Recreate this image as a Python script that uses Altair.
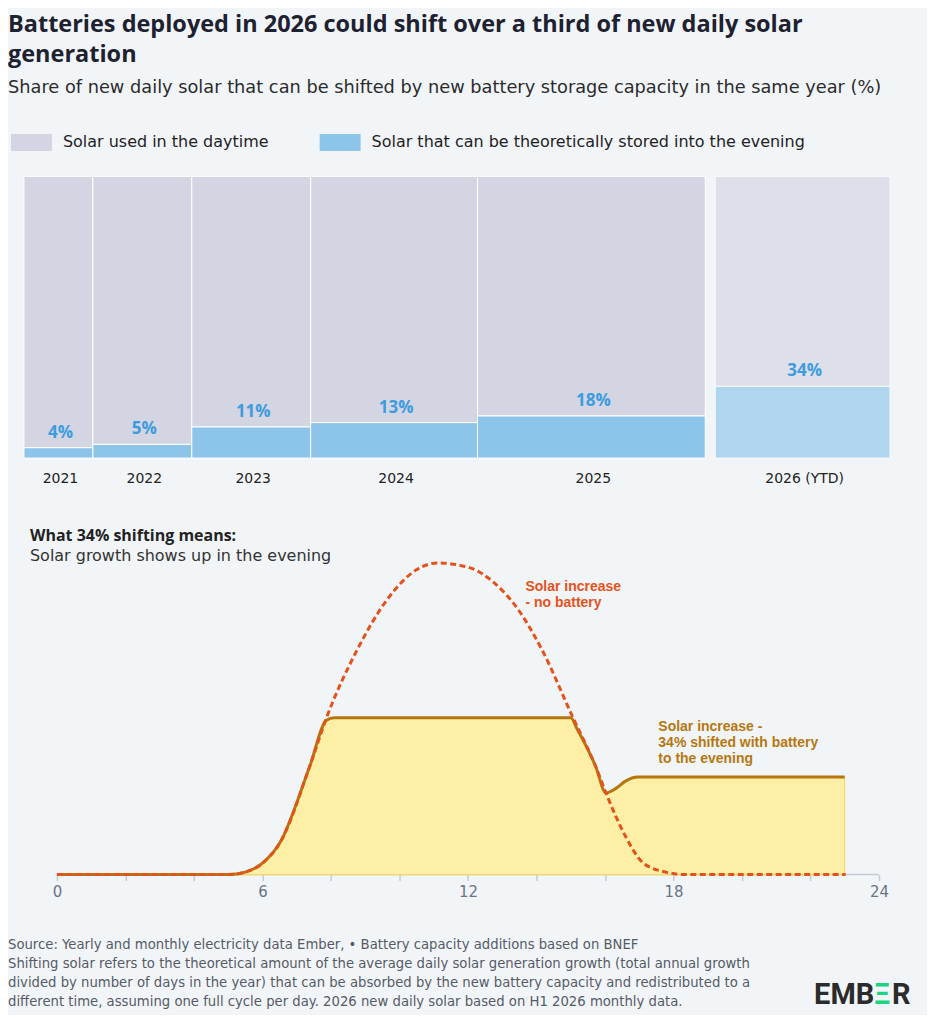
import altair as alt
import pandas as pd

# ---------------- data ----------------
years = ["2021", "2022", "2023", "2024", "2025", "2026 (YTD)"]
new_daily_solar = [69, 99, 119, 167, 228, 175]          # bar widths (relative units)
shifted_bar = [3.7, 4.9, 11.1, 12.6, 15.0, 25.5]        # drawn height of the blue part (%)
shifted_label = ["4%", "5%", "11%", "13%", "18%", "34%"]
is_ytd = ["no", "no", "no", "no", "no", "yes"]

cat_day = "Solar used in the daytime"
cat_eve = "Solar that can be theoretically stored into the evening"

hours_no_battery = [0, 5.0, 5.5, 6.07, 6.51, 7.38, 7.87, 8.77, 9.64, 10.51, 11.12, 12.07,
                    12.77, 13.47, 14.16, 15.07, 15.73, 16.07, 16.6, 17.12, 17.82, 18.33, 23.03]
solar_no_battery = [0, 0, 0.8, 4.3, 10.2, 34.7, 50.3, 72.2, 88.2, 97.9, 100, 98.4,
                    93.6, 85.0, 72.2, 50.3, 34.7, 25.1, 12.3, 3.7, 0.7, 0, 0]

hours_battery = [0, 5.0, 5.5, 6.07, 6.51, 7.38, 7.87, 8.1, 15.0, 15.2, 15.73, 16.03,
                 16.3, 16.6, 16.95, 23.0]
solar_battery = [0, 0, 0.8, 4.3, 10.2, 34.7, 49.5, 50.3, 50.3, 46.5, 34.7, 26.2,
                 27.5, 30.0, 31.3, 31.3]

hour_ticks = list(range(0, 25, 2))

note_hours = [13.68, 17.56]
note_levels = [91.1, 46.2]          # baseline of each note's first line
note_texts = [["Solar increase", "- no battery"],
              ["Solar increase -", "34% shifted with battery", "to the evening"]]
note_colors = ["#e4521b", "#b7770f"]

footer_lines = [
    "Source: Yearly and monthly electricity data Ember, \u2022 Battery capacity additions based on BNEF",
    "Shifting solar refers to the theoretical amount of the average daily solar generation growth (total annual growth",
    "divided by number of days in the year) that can be absorbed by the new battery capacity and redistributed to a",
    "different time, assuming one full cycle per day. 2026 new daily solar based on H1 2026 monthly data.",
]

BG = "#f2f5f8"
FONT_B = "Open Sans"
FONT_R = "DejaVu Sans"

# ---------------- top: variable-width bars ----------------
rows, labels = [], []
start = 0.0
for i, yr in enumerate(years):
    if is_ytd[i] == "yes":
        start += 10  # visual gap before the YTD bar
    end = start + new_daily_solar[i]
    rows.append(dict(year=yr, cat=cat_eve, x0=start, x1=end, y0=0, y1=shifted_bar[i], ytd=is_ytd[i]))
    rows.append(dict(year=yr, cat=cat_day, x0=start, x1=end, y0=shifted_bar[i], y1=100, ytd=is_ytd[i]))
    labels.append(dict(year=yr, xm=(start + end) / 2, top=shifted_bar[i], label=shifted_label[i]))
    start = end
total = start
bars_df = pd.DataFrame(rows)
lab_df = pd.DataFrame(labels)

xs = alt.Scale(domain=[0, total], nice=False, zero=False)
ys = alt.Scale(domain=[0, 100], nice=False)

bars = alt.Chart(bars_df).mark_rect(stroke="white", strokeWidth=1).encode(
    x=alt.X("x0:Q", scale=xs, axis=None),
    x2="x1:Q",
    y=alt.Y("y0:Q", scale=ys, axis=None),
    y2="y1:Q",
    color=alt.Color(
        "cat:N",
        scale=alt.Scale(domain=[cat_day, cat_eve], range=["#d3d6e2", "#8dc5ea"]),
        legend=alt.Legend(
            title=None, orient="none", direction="horizontal",
            legendX=-13, legendY=-55,
            symbolType="M-1,-0.415H1V0.415H-1Z", symbolSize=1681,
            symbolStrokeWidth=0, symbolOpacity=1,
            labelFontSize=16, labelColor="#222222", labelFont=FONT_R, labelLimit=600,
            labelOffset=11, columnPadding=50,
        ),
    ),
    opacity=alt.Opacity("ytd:N", scale=alt.Scale(domain=["no", "yes"], range=[1, 0.65]), legend=None),
)

pct = alt.Chart(lab_df).mark_text(
    dy=-15, dx=2, fontSize=17, fontWeight="bold", color="#3d9be0", font=FONT_B
).encode(
    x=alt.X("xm:Q", scale=xs),
    y=alt.Y("top:Q", scale=ys),
    text="label:N",
)

yr_text = alt.Chart(lab_df).mark_text(
    dy=21, dx=2, fontSize=14, color="#222222", font=FONT_R
).encode(
    x=alt.X("xm:Q", scale=xs),
    y=alt.datum(0, scale=ys),
    text="year:N",
)

top = alt.layer(bars, pct, yr_text).properties(width=total, height=282)

# ---------------- bottom: daily profile ----------------
PX_PER_H = 34.29
hmin, hmax = -0.962, 24.5
W2 = round((hmax - hmin) * PX_PER_H)
H2 = 312

hx = alt.Scale(domain=[hmin, hmax], nice=False, zero=False)
hy = alt.Scale(domain=[0, 100], nice=False, zero=False)

nb_df = pd.DataFrame({"h": hours_no_battery, "v": solar_no_battery})
b_df = pd.DataFrame({"h": hours_battery, "v": solar_battery})
notes_df = pd.DataFrame({"h": note_hours, "v": note_levels, "t": note_texts, "c": note_colors})

axis_line = alt.Chart(pd.DataFrame({"h0": [hour_ticks[0]], "h1": [hour_ticks[-1]], "v": [0]})).mark_rule(
    color="#c5cad5", strokeWidth=1.5
).encode(
    x=alt.X("h0:Q", scale=hx, axis=alt.Axis(
        values=hour_ticks, labelExpr="datum.value % 6 === 0 ? datum.label : ''",
        domain=False, grid=False, ticks=True, tickSize=6, tickColor="#c5cad5", tickWidth=1.5,
        labelFontSize=15, labelColor="#6b7385", labelPadding=4, title=None, labelFont=FONT_R,
        labelFlush=False, labelOverlap=False,
    )),
    x2="h1:Q",
    y=alt.Y("v:Q", scale=hy, axis=None),
)

area = alt.Chart(b_df).mark_area(
    color="#fdf0a6", interpolate="monotone", stroke="#f6d668", strokeWidth=1.2
).encode(x=alt.X("h:Q", scale=hx), y=alt.Y("v:Q", scale=hy))

bline = alt.Chart(b_df).mark_line(
    color="#b5760f", strokeWidth=3, interpolate="monotone"
).encode(x=alt.X("h:Q", scale=hx), y=alt.Y("v:Q", scale=hy))

nbline = alt.Chart(nb_df).mark_line(
    color="#e4521b", strokeWidth=3, strokeDash=[6, 3.5], interpolate="monotone"
).encode(x=alt.X("h:Q", scale=hx), y=alt.Y("v:Q", scale=hy))

notes = alt.Chart(notes_df).mark_text(
    align="left", baseline="alphabetic", fontSize=14, fontWeight="bold", font="Liberation Sans",
    lineHeight=16.3,
).encode(
    x=alt.X("h:Q", scale=hx), y=alt.Y("v:Q", scale=hy), text="t",
    color=alt.Color("c:N", scale=None),
)

one = pd.DataFrame({"a": [0]})
footer = alt.Chart(one).mark_text(
    align="left", baseline="top", fontSize=13.25, color="#555b66", font=FONT_R,
    lineHeight=19.1, text=footer_lines,
).encode(x=alt.value(-16), y=alt.value(376))

# EMBER logo as three adjacent text pieces (no overlap)
logo_kw = dict(align="left", baseline="middle", fontSize=29, fontWeight="bold", font="Roboto")
logo1 = alt.Chart(one).mark_text(color="#2b2b2b", text="EMB", **logo_kw).encode(
    x=alt.value(791), y=alt.value(433))
logo2 = alt.Chart(one).mark_text(color="#20d47f", text="\u039e", **logo_kw).encode(
    x=alt.value(851), y=alt.value(433))
logo3 = alt.Chart(one).mark_text(color="#2b2b2b", text="R", **logo_kw).encode(
    x=alt.value(869), y=alt.value(433))

bottom = alt.layer(axis_line, area, bline, nbline, notes, footer, logo1, logo2, logo3).properties(
    width=W2, height=H2,
    title=alt.Title(
        "What 34% shifting means:", subtitle="Solar growth shows up in the evening",
        anchor="start", fontSize=16, fontWeight="bold", color="#222222", font=FONT_B,
        subtitleFontSize=16, subtitleColor="#333333", subtitleFont=FONT_R,
        subtitlePadding=4, offset=-7, dx=22,
    ),
)

chart = alt.vconcat(top, bottom, spacing=42).properties(
    background=BG,
    padding={"left": 0, "top": 4, "right": 16, "bottom": 4},
    title=alt.Title(
        ["Batteries deployed in 2026 could shift over a third of new daily solar", "generation"],
        subtitle="Share of new daily solar that can be shifted by new battery storage capacity in the same year (%)",
        anchor="start", fontSize=23.5, fontWeight="bold", color="#1d2130", font=FONT_B, lineHeight=30,
        subtitleFontSize=17.8, subtitleColor="#2b2b2b", subtitleFont=FONT_R, subtitlePadding=12,
        offset=25,
    ),
).configure_view(stroke=None)

chart.save("out.html", embed_options={"renderer": "svg", "actions": False})
